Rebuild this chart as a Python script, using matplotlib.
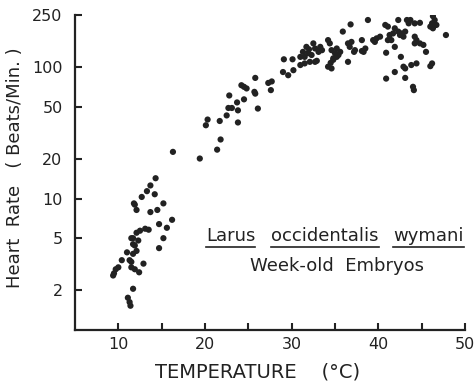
import matplotlib
matplotlib.use("Agg")
import matplotlib.pyplot as plt
from matplotlib.lines import Line2D
import numpy as np

# Temperature (deg C) and heart rate (beats/min)
temp_low = [14.3, 13.7, 13.3, 14.2, 12.7, 11.9, 12.1, 13.7, 14.5, 15.2, 16.2, 14.7,
            15.6, 12.5, 13.1, 13.5, 12.1, 11.7, 12.3, 15.2, 11.9, 12.1, 14.7, 11.0,
            11.7, 10.4, 11.3, 12.9, 11.5, 11.9, 10.0, 9.7, 9.5, 12.4, 11.7, 11.1,
            11.3, 11.4, 9.4, 11.5, 11.7, 11.5, 11.8]
rate_low = [14.3, 12.6, 11.4, 10.8, 10.3, 9.0, 8.2, 7.9, 8.2, 9.2, 6.9, 6.4,
            6.0, 5.7, 5.9, 5.8, 5.5, 5.0, 4.8, 5.0, 4.4, 4.0, 4.2, 3.9,
            3.8, 3.4, 3.4, 3.2, 3.0, 2.9, 3.0, 2.9, 2.7, 2.75, 2.06, 1.76,
            1.63, 1.53, 2.6, 3.3, 4.5, 5.0, 9.2]

temp_mid = [16.3, 19.4, 21.4, 21.8, 20.1, 20.3, 21.7, 22.5, 23.8, 22.7, 23.1, 23.8,
            23.7, 22.8, 24.5, 24.2, 24.5, 24.8, 25.8, 25.7, 25.8, 26.1, 27.3, 27.7,
            27.6]
rate_mid = [22.7, 20.2, 23.6, 28.2, 36.2, 40, 39, 43, 38, 49, 49, 47,
            54, 61, 57, 73, 71, 69, 83, 65, 63, 48.5, 76, 78,
            67]

temp_high = [29.1, 30.1, 29.0, 29.6, 30.2, 31.0, 31.3, 31.9, 31.0, 31.5, 32.5, 32.7,
             33.3, 33.5, 32.1, 32.7, 34.2, 34.4, 34.6, 35.0, 35.2, 34.8, 34.2, 34.6,
             35.9, 36.8, 36.5, 36.9, 37.2, 36.5, 38.1, 38.5, 38.3, 38.8, 39.4, 39.8,
             40.2, 39.6, 40.8, 41.1, 40.9, 41.3, 41.5, 41.1, 41.7, 41.9, 42.3, 41.9,
             42.3, 42.5, 42.7, 42.9, 43.1, 43.3, 43.7, 43.5, 44.2, 44.8, 44.2, 44.4,
             44.2, 44.8, 45.2, 45.5, 46.3, 46.5, 46.2, 46.7, 46.0, 46.3, 47.8, 42.6,
             40.9, 41.9, 42.9, 43.1, 43.1, 43.8, 44.4, 44.0, 44.1, 46.2, 46.0,
             31.7, 32.0, 32.3, 31.5, 32.9, 33.1, 35.2, 35.6, 35.4, 34.8, 34.5, 36.7,
             37.3, 38.1]
rate_high = [115, 115, 92, 87, 95, 120, 131, 128, 104, 107, 152, 139,
             143, 135, 110, 110, 161, 152, 135, 128, 120, 117, 101, 98,
             187, 212, 152, 156, 131, 110, 161, 139, 131, 229, 161, 166,
             171, 156, 210, 204, 129, 176, 161, 161, 181, 143, 229, 198,
             187, 176, 181, 171, 187, 229, 229, 216, 216, 218, 171, 161,
             152, 152, 148, 131, 245, 229, 216, 210, 204, 198, 176, 120,
             82, 92, 101, 98, 83, 104, 107, 71, 67, 107, 102,
             143, 137, 124, 120, 112, 131, 139, 131, 124, 114, 108, 143,
             135, 133]

temps = temp_low + temp_mid + temp_high
rates = rate_low + rate_mid + rate_high

y_ticks = [2, 5, 10, 20, 50, 100, 250]
y_tick_labels = ["2", "5", "10", "20", "50", "100", "250"]
x_ticks = [10, 20, 30, 40, 50]
x_minor = [15, 25, 35, 45]

W, H = 475, 384
fig = plt.figure(figsize=(W / 100, H / 100), dpi=100)
ax = fig.add_axes([75 / W, 1 - 330 / H, (465 - 75) / W, (330 - 15) / H])

ink = "#222222"
ax.scatter(temps, rates, s=20, color=ink, edgecolors="none", zorder=3)

ax.set_yscale("log")
ax.set_xlim(5, 50)
ax.set_ylim(1, 250)
ax.set_yticks(y_ticks)
ax.set_yticklabels(y_tick_labels)
ax.yaxis.set_minor_locator(matplotlib.ticker.NullLocator())
ax.set_xticks(x_ticks)
ax.set_xticks(x_minor, minor=True)

for s in ["top", "right"]:
    ax.spines[s].set_visible(False)
for s in ["left", "bottom"]:
    ax.spines[s].set_linewidth(1.6)
    ax.spines[s].set_color(ink)

ax.tick_params(axis="both", which="both", direction="in", color=ink,
               labelcolor=ink, labelsize=11.5, width=1.5)
ax.tick_params(axis="y", which="major", length=5, pad=9)
ax.tick_params(axis="x", which="major", length=5, pad=5)
ax.tick_params(axis="x", which="minor", length=5)

fig.text(15 / W, 1 - 168 / H, "Heart  Rate   ( Beats/Min. )", rotation=90,
         ha="center", va="center", fontsize=13, color=ink)
fig.text(258 / W, 1 - 372 / H, "TEMPERATURE    (°C)", ha="center", va="center",
         fontsize=14, color=ink)

words = [("Larus", 206), ("occidentalis", 271), ("wymani", 393)]
texts = []
for w, xp in words:
    t = fig.text(xp / W, 1 - 241 / H, w, ha="left", va="baseline",
                 fontsize=13, color=ink)
    texts.append(t)
fig.text(337 / W, 1 - 271 / H, "Week-old  Embryos", ha="center", va="baseline",
         fontsize=13, color=ink)

fig.canvas.draw()
r = fig.canvas.get_renderer()
for t in texts:
    bb = t.get_window_extent(renderer=r)
    yl = 1 - 247 / H
    fig.add_artist(Line2D([bb.x0 / W, bb.x1 / W], [yl, yl], color=ink, lw=1.2,
                          transform=fig.transFigure))

fig.savefig("out.png", dpi=100)
